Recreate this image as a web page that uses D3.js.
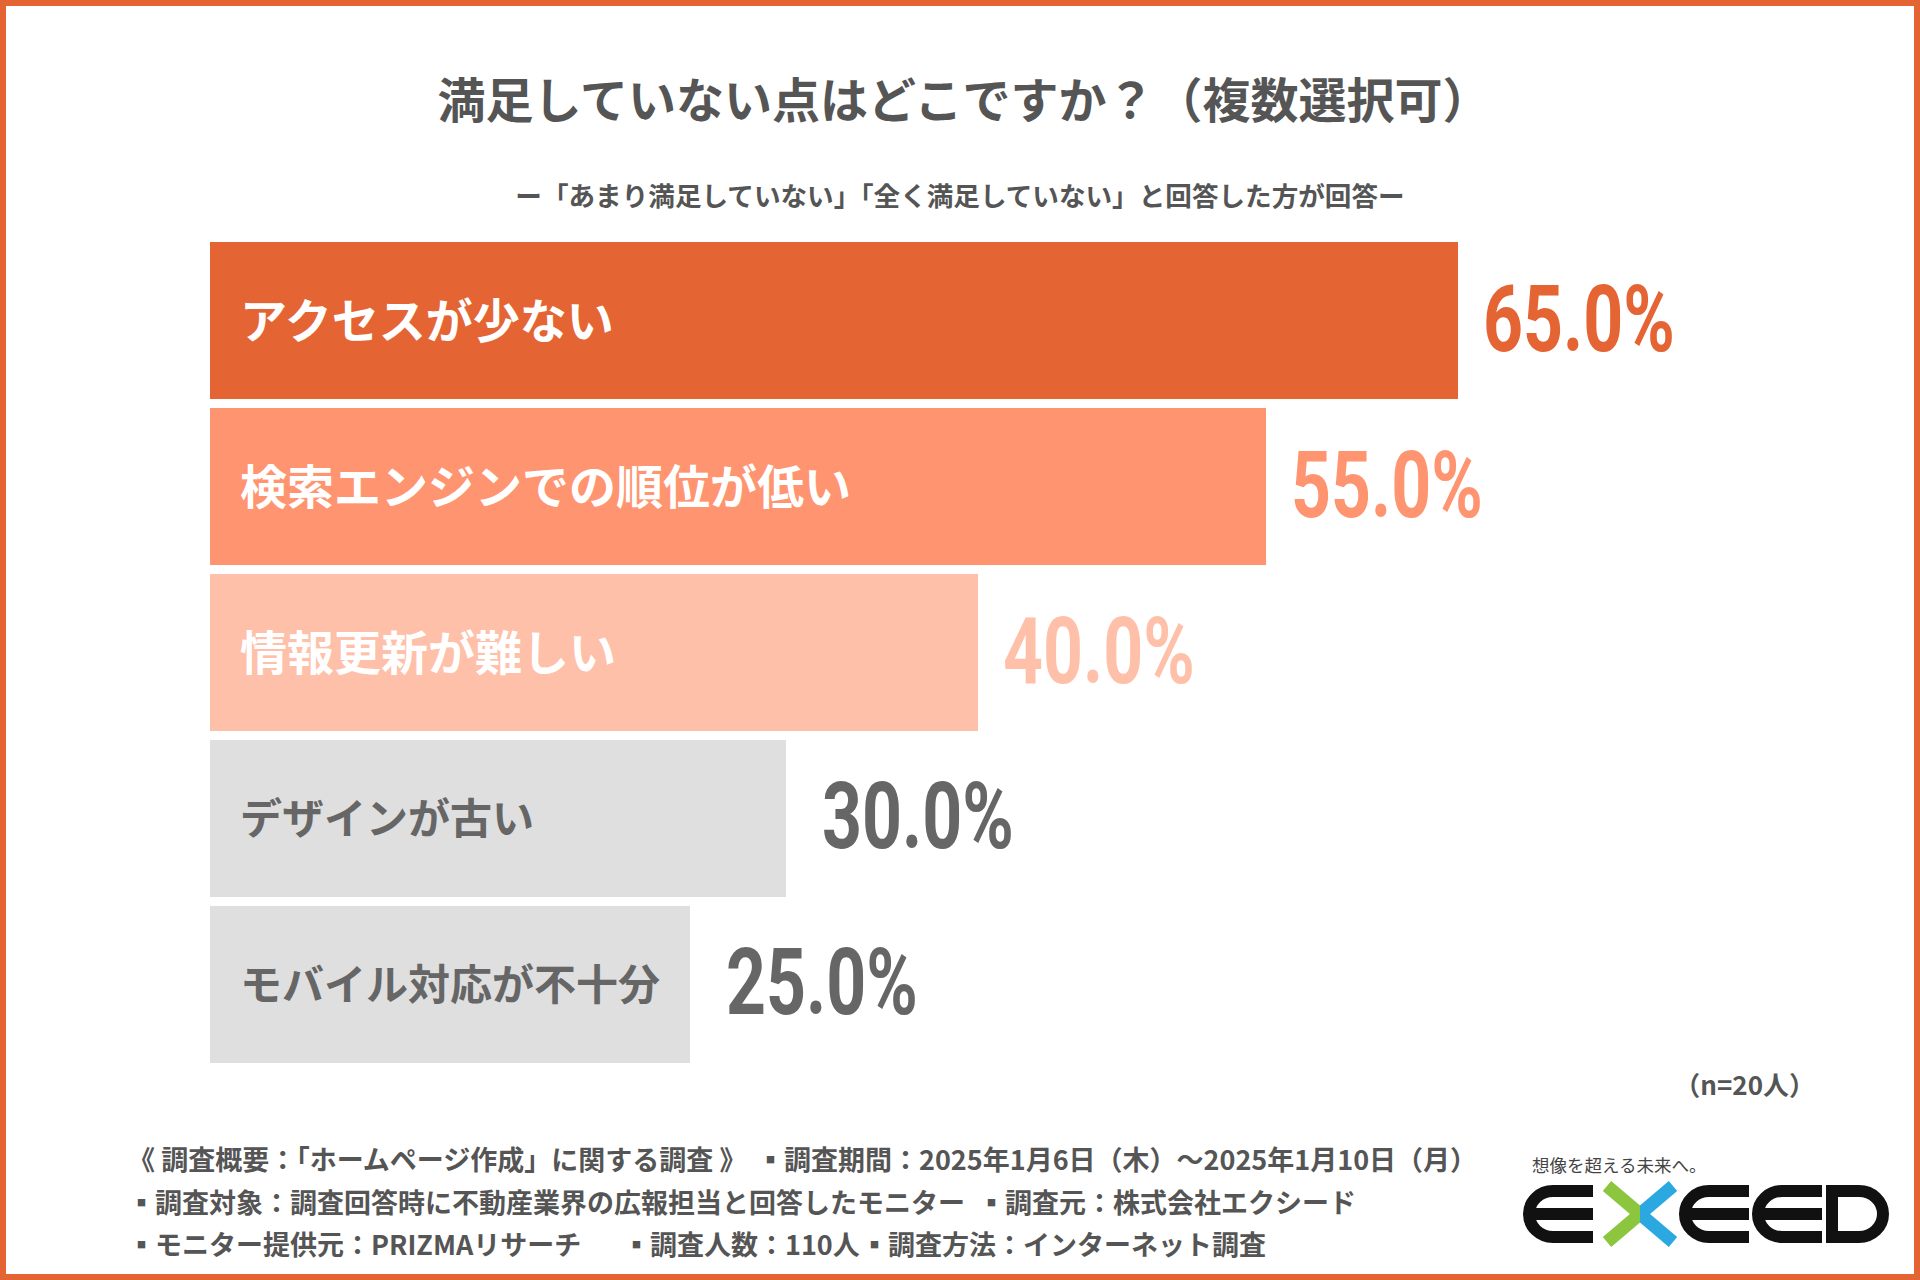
<!DOCTYPE html>
<html>
<head>
<meta charset="utf-8">
<script src="https://cdn.jsdelivr.net/npm/d3@7"></script>
<style>
  html, body { margin: 0; padding: 0; background: #fff; }
  svg { display: block; }
</style>
</head>
<body>
<div id="c1"></div>
<script>
// Data
var categories = ["アクセスが少ない", "検索エンジンでの順位が低い", "情報更新が難しい", "デザインが古い", "モバイル対応が不十分"];
var values = [65.0, 55.0, 40.0, 30.0, 25.0];
var sampleSize = 20;

var titleText = "満足していない点はどこですか？（複数選択可）";
var subtitleText = "ー「あまり満足していない」「全く満足していない」と回答した方が回答ー";
var footerLines = [
    ["《 調査概要：「ホームページ作成」に関する調査 》", "▪調査期間：2025年1月6日（木）～2025年1月10日（月）"],
    ["▪調査対象：調査回答時に不動産業界の広報担当と回答したモニター", "▪調査元：株式会社エクシード"],
    ["▪モニター提供元：PRIZMAリサーチ", "▪調査人数：110人", "▪調査方法：インターネット調査"]
];

// Layout
var w = 1920;
var h = 1280;
var jp = "'Noto Sans CJK JP', 'Noto Sans', sans-serif";
var num = "Roboto, 'Liberation Sans', sans-serif";
var textGrey = "#555555";

var barFill = ["#E56433", "#FF9470", "#FFC0AA", "#DFDFDF", "#DFDFDF"];
var valueFill = ["#E56433", "#FF9470", "#FFC0AA", "#666666", "#666666"];
var labelFill = ["#ffffff", "#ffffff", "#ffffff", "#666666", "#666666"];

var svg = d3.select("#c1").append("svg")
    .attr("width", w)
    .attr("height", h);

// frame
svg.append("rect")
    .attr("x", 3).attr("y", 3)
    .attr("width", w - 6).attr("height", h - 6)
    .attr("fill", "#fff")
    .attr("stroke", "#E56433")
    .attr("stroke-width", 6);

// titles
svg.append("text")
    .attr("x", 964).attr("y", 97)
    .attr("text-anchor", "middle")
    .attr("dominant-baseline", "central")
    .attr("font-family", jp).attr("font-weight", 700)
    .attr("font-size", 48)
    .attr("fill", textGrey)
    .text(titleText);

svg.append("text")
    .attr("x", 960).attr("y", 194)
    .attr("text-anchor", "middle")
    .attr("dominant-baseline", "central")
    .attr("font-family", jp).attr("font-weight", 700)
    .attr("font-size", 26.6)
    .attr("fill", textGrey)
    .text(subtitleText);

// Scales
var x = d3.scaleLinear().domain([0, 65]).range([210, 1458]);
var y = d3.scaleBand().domain(categories).range([242, 1063]).paddingInner(0.054).paddingOuter(0);

var rows = svg.append("g").selectAll("g.row")
    .data(categories)
    .enter()
    .append("g")
    .attr("class", "row");

// Bars
rows.append("rect")
    .attr("x", x(0))
    .attr("y", function (d) { return y(d); })
    .attr("width", function (d, i) { return x(values[i]) - x(0); })
    .attr("height", y.bandwidth())
    .attr("fill", function (d, i) { return barFill[i]; });

// Category labels
rows.append("text")
    .attr("x", x(0) + 30)
    .attr("y", function (d) { return y(d) + y.bandwidth() / 2 - 3; })
    .attr("dominant-baseline", "central")
    .attr("font-family", jp).attr("font-weight", 700)
    .attr("font-size", function (d, i) { return i < 3 ? 47 : 42; })
    .attr("fill", function (d, i) { return labelFill[i]; })
    .text(function (d) { return d; });

// Value labels (condensed by horizontal scaling)
rows.append("text")
    .attr("transform", function (d, i) {
        var tx = x(values[i]) + (i < 3 ? 25 : 36);
        var ty = y(d) + y.bandwidth() / 2 + 30;
        return "translate(" + tx + "," + ty + ") scale(0.75,1)";
    })
    .attr("font-family", num).attr("font-weight", 700)
    .attr("font-size", 93)
    .attr("fill", function (d, i) { return valueFill[i]; })
    .text(function (d, i) { return values[i].toFixed(1) + "%"; });

// n
svg.append("text")
    .attr("x", 1815).attr("y", 1083)
    .attr("text-anchor", "end")
    .attr("dominant-baseline", "central")
    .attr("font-family", jp).attr("font-weight", 700)
    .attr("font-size", 26)
    .attr("fill", textGrey)
    .text("（n=" + sampleSize + "人）");

// Footer
var footX = [[128, 757], [128, 978], [128, 623, 861]];
var footY = [1158, 1201, 1243];
footerLines.forEach(function (line, li) {
    var t = svg.append("text")
        .attr("y", footY[li])
        .attr("dominant-baseline", "central")
        .attr("font-family", jp).attr("font-weight", 700)
        .attr("font-size", 27)
        .attr("fill", textGrey);
    line.forEach(function (seg, si) {
        t.append("tspan").attr("x", footX[li][si]).text(seg);
    });
});

// Logo
var logo = svg.append("g").attr("transform", "translate(1523,1185)");
logo.append("text")
    .attr("x", 9).attr("y", -13)
    .attr("font-family", jp).attr("font-weight", 400)
    .attr("font-size", 17.5)
    .attr("fill", "#444")
    .text("想像を超える未来へ。");

var defs = svg.append("defs");
var grad = defs.append("linearGradient").attr("id", "xgrad")
    .attr("gradientUnits", "userSpaceOnUse")
    .attr("x1", 0).attr("x2", 76).attr("y1", 0).attr("y2", 0);
grad.append("stop").attr("offset", "50%").attr("stop-color", "#8CC63F");
grad.append("stop").attr("offset", "50%").attr("stop-color", "#2BA8E0");

function drawE(g, ox) {
    g.append("path")
        .attr("d", "M" + (ox + 70) + ",6 H" + (ox + 30) + " A24 23 0 0 0 " + (ox + 6) + ",29 A24 23 0 0 0 " + (ox + 30) + ",52 H" + (ox + 70))
        .attr("fill", "none").attr("stroke", "#111").attr("stroke-width", 12);
    g.append("path")
        .attr("d", "M" + ox + ",29 L" + (ox + 8) + ",23 H" + (ox + 70) + " V35 H" + (ox + 8) + " Z")
        .attr("fill", "#111");
}
drawE(logo, 0);
drawE(logo, 156);
drawE(logo, 229);
// X
var xg = logo.append("g").attr("transform", "translate(79,0)");
xg.append("path").attr("d", "M5,1 L71,57").attr("stroke", "url(#xgrad)").attr("stroke-width", 13);
xg.append("path").attr("d", "M71,1 L5,57").attr("stroke", "url(#xgrad)").attr("stroke-width", 13);
// D
logo.append("path")
    .attr("d", "M309,6 H336 A24 23 0 0 1 360,29 A24 23 0 0 1 336,52 H309 Z")
    .attr("fill", "none").attr("stroke", "#111").attr("stroke-width", 12);
</script>
</body>
</html>
